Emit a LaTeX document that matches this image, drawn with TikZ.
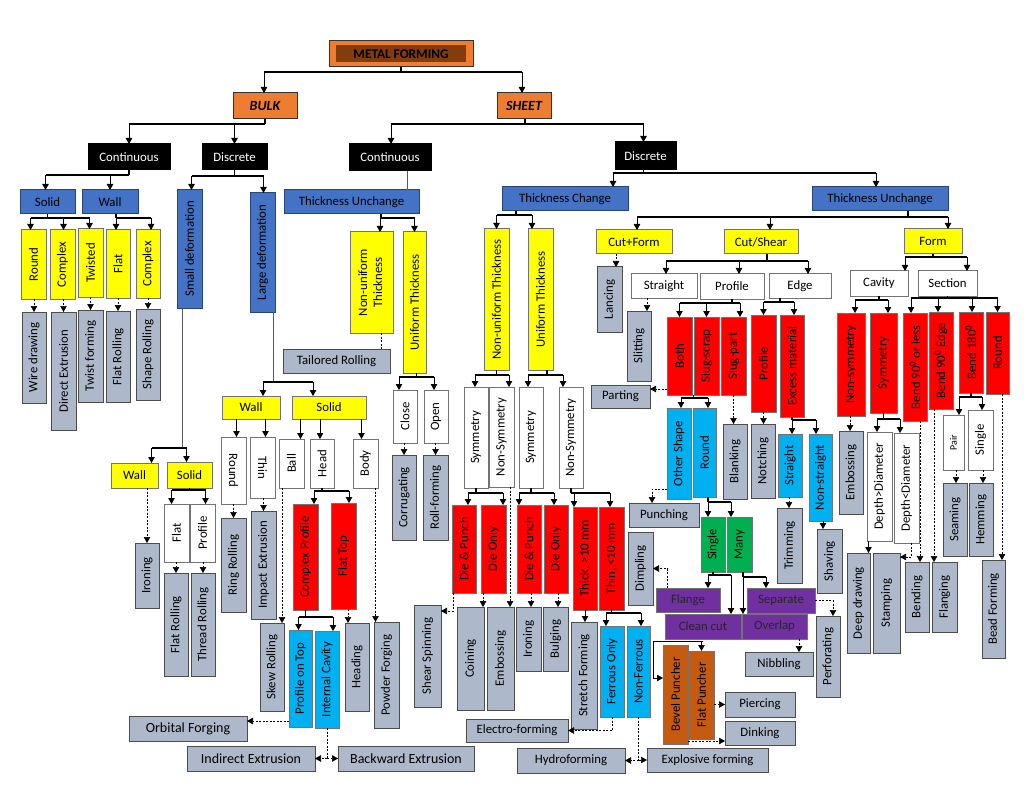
\documentclass[tikz,border=0pt]{standalone}
\usepackage{fontspec}
\setmainfont{Carlito}
\usepackage{graphicx}
\usetikzlibrary{arrows.meta}
\definecolor{corg}{HTML}{ED7D31}
\definecolor{cbrn}{HTML}{843C0C}
\definecolor{cblu}{HTML}{4472C4}
\definecolor{cgry}{HTML}{ADB9CA}
\definecolor{ccya}{HTML}{00B0F0}
\definecolor{cgrn}{HTML}{00B050}
\definecolor{cpur}{HTML}{7030A0}
\definecolor{cpun}{HTML}{C55A11}
\definecolor{cred}{HTML}{FF0000}
\definecolor{cyel}{HTML}{FFFF00}
\tikzset{
 box/.style={draw=black!70, line width=1pt, inner sep=0pt, outer sep=0pt, align=center, font=\fontsize{12.8}{15}\selectfont, text=black},
 sOrg/.style={fill=corg, draw=black!80},
 sBlk/.style={fill=black, draw=black, text=white},
 sBlu/.style={fill=cblu, draw=cblu!60!black},
 sYel/.style={fill=cyel, draw=black!55},
 sGry/.style={fill=cgry, draw=black!70},
 sWht/.style={fill=white, draw=black!55},
 sRed/.style={fill=cred, draw=black!55},
 sCya/.style={fill=ccya, draw=black!55},
 sGrn/.style={fill=cgrn, draw=black!55},
 sPur/.style={fill=cpur, draw=black!55, text=black!85},
 sPun/.style={fill=cpun, draw=black!55},
 bar/.style={line width=1.6pt, black},
 thinstem/.style={line width=0.7pt, black!65},
 arr/.style={line width=0.8pt, black, -{Triangle[length=6pt,width=6.5pt]}},
 darr/.style={line width=0.6pt, black, dash pattern=on 2pt off 1.5pt, -{Triangle[length=6pt,width=6.5pt]}},
 dln/.style={line width=0.6pt, black, dash pattern=on 2pt off 1.5pt},
 big/.style={font=\fontsize{14}{16}\selectfont}
}
\newcommand\Bx[7]{\node[box,#6,minimum width={(#4-#2)*1pt},minimum height={(#5-#3)*1pt}] (#1) at ({(#2+#4)/2},{(#3+#5)/2}) {#7};}
\newcommand\Vbx[7]{\Bx{#1}{#2}{#3}{#4}{#5}{#6}{\rotatebox{90}{#7}}}
\newcommand\Fork[5][bar]{%
  \coordinate (fkex) at ([xshift=#3pt]#2.south);
  \coordinate (fkbus) at (0,#4);
  \draw[#1] (fkex) -- (fkex |- fkbus);
  \foreach \fkc/\fkd in {#5}{%
    \coordinate (fkcx) at ([xshift=\fkd pt]\fkc.north);
    \draw[bar] (fkex |- fkbus) -- (fkcx |- fkbus);
    \draw[arr] (fkcx |- fkbus) -- (fkcx);
  }}
\newcommand\Drop[4]{\coordinate (dpx) at ([xshift=#3pt]#2.north); \draw[#4] (dpx |- #1.south) -- (dpx);}
\newcommand\DropP[4]{\coordinate (dpx) at ([xshift=#3pt]#1.south); \draw[#4] (dpx) -- (dpx |- #2.north);}
\begin{document}
\begin{tikzpicture}[x=1pt,y=-1pt]
\fill[white] (0,0) rectangle (1024,791);
\useasboundingbox (0,0) rectangle (1024,791);
% ---------- top ----------
\Bx{mf}{329}{41}{473}{67}{sOrg}{}
\node[box, fill=cbrn, draw=none, minimum width=130pt, minimum height=17pt, font=\fontsize{13.3}{15}\selectfont\bfseries] (mft) at (mf.center) {METAL FORMING};
\Bx{bulk}{233}{93}{297}{119}{sOrg,font=\fontsize{14}{16}\selectfont\bfseries\itshape}{BULK}
\Bx{sheet}{497}{93}{551}{119}{sOrg,font=\fontsize{14}{16}\selectfont\bfseries\itshape}{SHEET}
\Fork{mf}{0}{72}{bulk/-1,sheet/-2}
\Bx{bc}{88}{144}{170}{170}{sBlk}{Continuous}
\Bx{bd}{202}{144}{267}{170}{sBlk}{Discrete}
\Bx{sc}{349}{144}{431}{171}{sBlk}{Continuous}
\Bx{sd}{615}{142}{676}{170}{sBlk}{Discrete}
\Fork{bulk}{0}{124}{bc/0,bd/0}
\Fork{sheet}{1}{124}{sc/1,sd/-2}
% ---------- bulk continuous ----------
\Bx{solid1}{20}{190}{75}{214}{sBlu}{Solid}
\Bx{wall1}{82}{190}{138}{214}{sBlu}{Wall}
\Fork{bc}{0}{175}{solid1/-2,wall1/0}
\Vbx{round1}{21}{230}{46}{299}{sYel}{Round}
\Vbx{cplx1}{50}{230}{75}{299}{sYel}{Complex}
\Vbx{twist}{78}{229}{103}{297}{sYel}{Twisted}
\Vbx{flat1}{106}{230}{130}{298}{sYel}{Flat}
\Vbx{cplx2}{136}{230}{160}{298}{sYel}{Complex}
\Fork{solid1}{0}{218}{round1/-3,cplx1/1,twist/-1}
\Fork{wall1}{6}{218}{flat1/-2,cplx2/3}
\Vbx{wire}{22}{312}{46}{403}{sGry}{Wire drawing}
\Vbx{dext}{51}{312}{76}{430}{sGry}{Direct Extrusion}
\Vbx{twf}{78}{310}{103}{402}{sGry}{Twist forming}
\Vbx{flr1}{106}{311}{130}{402}{sGry}{Flat Rolling}
\Vbx{shr}{136}{309}{160}{400}{sGry}{Shape Rolling}
\Drop{round1}{wire}{0}{darr}
\Drop{cplx1}{dext}{0}{darr}
\Drop{twist}{twf}{0}{darr}
\Drop{flat1}{flr1}{0}{darr}
\Drop{cplx2}{shr}{0}{darr}
% ---------- bulk discrete ----------
\Vbx{small}{177}{190}{202}{308}{sBlu}{Small deformation}
\Vbx{large}{250}{193}{275}{312}{sBlu}{Large deformation}
\Fork{bd}{0}{176}{small/2,large/1}
\Bx{wall2}{111}{463}{158}{488}{sYel}{Wall}
\Bx{solid2}{167}{462}{212}{488}{sYel}{Solid}
\Fork[thinstem]{small}{-7}{448}{wall2/17,solid2/-3}
\Vbx{iron1}{135}{543}{159}{608}{sGry}{Ironing}
\Drop{wall2}{iron1}{0}{darr}
\Vbx{flat2}{164}{504}{189}{562}{sWht}{Flat}
\Vbx{prof2}{190}{504}{215}{562}{sWht}{Profile}
\Fork{solid2}{0}{490}{flat2/-5,prof2/3}
\Vbx{flr2}{164}{573}{188}{676}{sGry}{Flat Rolling}
\Vbx{thr}{191}{573}{215}{676}{sGry}{Thread Rolling}
\Drop{flat2}{flr2}{0}{darr}
\Drop{prof2}{thr}{0}{darr}
\Bx{wall3}{222}{396}{280}{419}{sYel}{Wall}
\Bx{solid3}{292}{396}{366}{419}{sYel}{Solid}
\Fork[thinstem]{large}{10.5}{382}{wall3/12,solid3/-16}
\Bx{round3}{221}{437}{246}{504}{sWht}{\rotatebox{-90}{Round}}
\Bx{thin3}{250}{437}{275}{498}{sWht}{\rotatebox{-90}{Thin}}
\Drop{wall3}{round3}{3}{arr}
\Drop{wall3}{thin3}{3}{arr}
\Vbx{ring}{221}{518}{246}{612}{sGry}{Ring Rolling}
\Vbx{impx}{251}{511}{276}{619}{sGry}{Impact Extrusion}
\Drop{round3}{ring}{0}{darr}
\Drop{thin3}{impx}{0}{darr}
\Vbx{ball}{279}{439}{304}{488}{sWht}{Ball}
\Vbx{head}{310}{439}{334}{488}{sWht}{Head}
\Vbx{body}{353}{439}{378}{488}{sWht}{Body}
\Drop{solid3}{ball}{9}{arr}
\Drop{solid3}{head}{-2}{arr}
\Drop{solid3}{body}{-4}{arr}
\Vbx{cprof}{293}{504}{318}{610}{sRed}{Complex Profile}
\Vbx{ftop}{331}{503}{356}{609}{sRed}{Flat Top}
\Fork{head}{0}{491}{cprof/8.5,ftop/5.5}
\Vbx{skew}{260}{623}{284}{711}{sGry}{Skew Rolling}
\DropP{ball}{skew}{-9.5}{darr}
\Vbx{ptop}{289}{630}{312}{727}{sCya}{Profile on Top}
\Vbx{icav}{315}{631}{339}{728}{sCya}{Internal Cavity}
\Fork{cprof}{0}{617}{ptop/-2,icav/6}
\Bx{orbital}{129}{716}{247}{741}{sGry,big}{Orbital Forging}
\coordinate (o1) at ([yshift=-42.5pt]ptop.west);
\draw[darr] (o1) -- (o1 -| orbital.east);
\Bx{indx}{187}{746}{315}{771}{sGry,big}{Indirect Extrusion}
\Bx{bwx}{338}{746}{474}{771}{sGry,big}{Backward Extrusion}
\draw[dln] (icav.south) -- (icav.south |- indx.east);
\draw[darr] (icav.south |- indx.east) -- (indx.east);
\draw[darr] (icav.south |- bwx.west) -- (bwx.west);
\Vbx{heading}{345}{623}{369}{711}{sGry}{Heading}
\Drop{ftop}{heading}{-9}{darr}
\Vbx{powder}{374}{622}{399}{728}{sGry}{Powder Forging}
\Drop{body}{powder}{-11}{darr}
% ---------- sheet continuous ----------
\Bx{tu1}{284}{190}{419}{214}{sBlu}{Thickness Unchange}
\DropP{sc}{tu1}{17}{thinstem}
\Vbx{nu1}{350}{232}{393}{333}{sYel}{\begin{tabular}{@{}c@{}}Non-uniform\\Thickness\end{tabular}}
\Vbx{ut1}{403}{232}{426}{373}{sYel}{Uniform Thickness}
\Fork{tu1}{29.5}{218}{nu1/8.5,ut1/0}
\Bx{tailored}{283}{349}{390}{373}{sGry}{Tailored Rolling}
\DropP{nu1}{tailored}{9.5}{dln}
\Vbx{close}{393}{390}{417}{443}{sWht}{Close}
\Vbx{open}{424}{390}{448}{443}{sWht}{Open}
\Fork{ut1}{2}{377}{close/-6,open/-2}
\Vbx{corr}{392}{455}{416}{540}{sGry}{Corrugating}
\Vbx{rollf}{423}{455}{448}{540}{sGry}{Roll-forming}
\Drop{close}{corr}{0}{darr}
\Drop{open}{rollf}{0}{darr}
% ---------- sheet discrete: thickness change ----------
\Bx{tc}{502}{187}{628}{211}{sBlu}{Thickness Change}
\Bx{tu2}{812}{187}{948}{211}{sBlu}{Thickness Unchange}
\Fork{sd}{-2}{173}{tc/48,tu2/-4}
\Vbx{nu2}{484}{229}{509}{370}{sYel}{Non-uniform Thickness}
\Vbx{ut2}{528}{229}{553}{370}{sYel}{Uniform Thickness}
\Fork{tc}{-49}{215}{nu2/0,ut2/-8.5}
\Vbx{sym1}{464}{387}{488}{488}{sWht}{Symmetry}
\Vbx{nsym1}{489}{387}{514}{487}{sWht}{Non-Symmetry}
\Vbx{sym2}{519}{387}{543}{488}{sWht}{Symmetry}
\Vbx{nsym2}{559}{387}{583}{488}{sWht}{Non-Symmetry}
\Fork{nu2}{0}{375}{sym1/-1,nsym1/7.5}
\Fork{ut2}{6.5}{375}{sym2/-3,nsym2/-8}
\Vbx{dp1}{452}{505}{476}{593}{sRed}{Die \& Punch}
\Vbx{do1}{481}{505}{506}{593}{sRed}{Die Only}
\Vbx{dp2}{517}{505}{541}{593}{sRed}{Die \& Punch}
\Vbx{do2}{544}{505}{568}{593}{sRed}{Die Only}
\Vbx{thick}{573}{507}{597}{610}{sRed}{Thick, >10 mm}
\Vbx{thinr}{599}{507}{624}{610}{sRed}{Thin, <10 mm}
\Fork{sym1}{0}{493}{dp1/4,do1/9.5}
\Fork{sym2}{0}{493}{dp2/-10,do2/-2}
\Fork{nsym2}{0}{493}{thick/-11,thinr/-1.5}
\Vbx{shear}{414}{605}{441}{707}{sGry}{Shear Spinning}
\draw[darr] ([xshift=1pt]dp1.south west) |- ([yshift=-6pt]shear.north east);
\Vbx{coin}{457}{607}{484}{710}{sGry}{Coining}
\Vbx{embs1}{487}{607}{514}{710}{sGry}{Embossing}
\Vbx{iron2}{516}{607}{541}{671}{sGry}{Ironing}
\Vbx{bulg}{543}{607}{568}{671}{sGry}{Bulging}
\DropP{do1}{coin}{-10.5}{darr}
\DropP{nsym1}{embs1}{8.5}{darr}
\Drop{dp2}{iron2}{2.5}{darr}
\Drop{do2}{bulg}{2.5}{darr}
\Vbx{stretch}{571}{622}{597}{729}{sGry}{Stretch Forming}
\Drop{thick}{stretch}{1}{arr}
\Vbx{ferr}{600}{626}{624}{717}{sCya}{Ferrous Only}
\Vbx{nferr}{627}{626}{650}{717}{sCya}{Non-Ferrous}
\Fork{thinr}{0}{613}{ferr/-6,nferr/2.5}
\Bx{electro}{466}{719}{568}{742}{sGry}{Electro-forming}
\draw[darr] (ferr.south) |- (electro.east);
\Bx{hydro}{517}{748}{625}{773}{sGry}{Hydroforming}
\Bx{explo}{647}{748}{768}{772}{sGry}{Explosive forming}
\draw[dln] (nferr.south) -- (nferr.south |- hydro.east);
\draw[darr] (nferr.south |- hydro.east) -- (hydro.east);
\draw[darr] (nferr.south |- explo.west) -- (explo.west);
% ---------- sheet discrete: thickness unchange ----------
\Bx{cutform}{596}{230}{672}{254}{sYel}{Cut+Form}
\Bx{cutshear}{724}{230}{798}{254}{sYel}{Cut/Shear}
\Bx{form}{904}{229}{962}{254}{sYel}{Form}
\Fork{tu2}{28}{217}{cutform/3,cutshear/9,form/15}
\Vbx{lancing}{597}{267}{622}{332}{sGry}{Lancing}
\DropP{cutform}{lancing}{-18}{darr}
\Bx{straight}{631}{274}{697}{298}{sWht}{Straight}
\Bx{profw}{700}{274}{764}{299}{sWht}{Profile}
\Bx{edge}{769}{274}{831}{298}{sWht}{Edge}
\Fork{cutshear}{6}{261}{straight/2,profw/7,edge/8}
\Vbx{slitting}{627}{311}{651}{381}{sGry}{Slitting}
\DropP{straight}{slitting}{-17}{darr}
\Vbx{both}{667}{317}{692}{395}{sRed}{Both}
\Vbx{slugs}{694}{317}{719}{395}{sRed}{Slug-scrap}
\Vbx{slugp}{721}{317}{746}{395}{sRed}{Slug-part}
\Fork{profw}{0}{303}{both/0,slugs/0,slugp/6.5}
\Vbx{profr}{751}{315}{776}{412}{sRed}{Profile}
\Vbx{excess}{780}{315}{804}{417}{sRed}{Excess material}
\Fork{edge}{-20}{302}{profr/0,excess/2}
\Bx{parting}{591}{385}{650}{408}{sGry}{Parting}
\coordinate (pt1) at ([yshift=-33pt]both.west);
\draw[darr] (pt1) -- (pt1 -| parting.east);
\Vbx{oshape}{667}{408}{691}{499}{sCya}{Other Shape}
\Vbx{roundc}{693}{408}{716}{497}{sCya}{Round}
\Fork{slugs}{-13}{398}{oshape/2,roundc/3.5}
\Vbx{blanking}{723}{424}{747}{499}{sGry}{Blanking}
\DropP{slugp}{blanking}{0}{darr}
\Vbx{notching}{751}{424}{775}{498}{sGry}{Notching}
\DropP{profr}{notching}{0}{darr}
\Vbx{str2}{778}{434}{802}{497}{sCya}{Straight}
\Vbx{nstr}{809}{434}{832}{521}{sCya}{Non-straight}
\Fork{excess}{0}{420}{str2/2,nstr/-4.5}
\Vbx{trimming}{777}{508}{802}{583}{sGry}{Trimming}
\DropP{str2}{trimming}{-1}{darr}
\Vbx{shaving}{817}{529}{842}{593}{sGry}{Shaving}
\DropP{nstr}{shaving}{2.5}{arr}
\Bx{punching}{629}{503}{699}{527}{sGry}{Punching}
\draw[darr] ([yshift=-35.5pt]oshape.west) -| ([xshift=-12pt]punching.north);
\Vbx{single}{701}{517}{725}{572}{sGrn}{Single}
\Vbx{many}{727}{517}{752}{572}{sGrn}{Many}
\Fork{roundc}{3.5}{502}{single/-5,many/-8.5}
\Bx{flange}{656}{588}{720}{612}{sPur}{Flange}
\Bx{cleancut}{665}{614}{741}{639}{sPur}{Clean cut}
\Bx{separate}{747}{588}{815}{613}{sPur}{Separate}
\Bx{overlap}{742}{614}{807}{639}{sPur}{Overlap}
\Fork{single}{0}{575}{flange/20,cleancut/28}
\Fork{many}{3.5}{577}{separate/-15,overlap/-31.5}
\Vbx{dimpling}{628}{532}{653}{605}{sGry}{Dimpling}
\draw[darr] ([xshift=11pt]flange.north west) |- (dimpling.east);
\Vbx{perf}{816}{616}{840}{697}{sGry}{Perforating}
\draw[darr] (separate.east) -| ([xshift=5pt]perf.north);
\Bx{nibbling}{745}{652}{813}{676}{sGry}{Nibbling}
\Drop{overlap}{nibbling}{20}{darr}
\Vbx{bevelp}{663}{645}{688}{744}{sPun}{Bevel Puncher}
\Vbx{flatp}{689}{651}{714}{739}{sPun}{Flat Puncher}
\coordinate (kk) at ([yshift=-2.5pt]cleancut.south);
\coordinate (bp) at ([yshift=16.5pt]bevelp.west);
\coordinate (bq) at ([xshift=-10pt]bp);
\draw[bar] (bq |- kk) -- (kk) -- (kk -| flatp.north);
\draw[arr] (kk -| flatp.north) -- (flatp.north);
\draw[arr] (bq |- kk) -- (bq) -- (bp);
\Bx{piercing}{725}{692}{795}{717}{sGry}{Piercing}
\draw[darr] (flatp.east |- piercing.west) -- (piercing.west);
\Bx{dinking}{725}{721}{795}{745}{sGry}{Dinking}
\coordinate (dk) at ([yshift=3pt]bevelp.south east);
\draw[darr] (dk) -- (dk -| dinking.west);
% ---------- form ----------
\Bx{cavity}{850}{271}{908}{296}{sWht}{Cavity}
\Bx{section}{918}{271}{977}{296}{sWht}{Section}
\Fork{form}{0}{257}{cavity/26,section/19.5}
\Vbx{nonsym}{837}{313}{865}{416}{sRed}{Non-symmetry}
\Vbx{sym3}{870}{313}{897}{413}{sRed}{Symmetry}
\Fork{cavity}{0}{300}{nonsym/4,sym3/4.5}
\Vbx{b90}{903}{313}{927}{421}{sRed}{Bend 90\textsuperscript{0} or less}
\Vbx{b90e}{929}{312}{953}{409}{sRed}{Bend 90\textsuperscript{0} Edge}
\Vbx{b180}{959}{312}{983}{393}{sRed}{Bend 180\textsuperscript{0}}
\Vbx{roundr}{986}{312}{1009}{394}{sRed}{Round}
\Fork{section}{0}{298}{b90/-4,b90e/-3,b180/1,roundr/0}
\Vbx{embs2}{839}{431}{863}{514}{sGry}{Embossing}
\Drop{nonsym}{embs2}{-1}{darr}
\Vbx{dgt}{867}{432}{892}{541}{sWht}{Depth>Diameter}
\Vbx{dlt}{894}{433}{919}{543}{sWht}{Depth<Diameter}
\Fork{sym3}{0}{419}{dgt/-2.5,dlt/-6.5}
\Vbx{pair}{943}{415}{964}{470}{sWht,font=\fontsize{10}{12}\selectfont}{Pair}
\Vbx{single2}{968}{410}{993}{470}{sWht}{Single}
\Fork{b180}{0}{397}{pair/5.5,single2/1.5}
\Vbx{seaming}{943}{483}{967}{556}{sGry}{Seaming}
\Vbx{hemming}{969}{483}{993}{556}{sGry}{Hemming}
\Drop{pair}{seaming}{1}{darr}
\Drop{single2}{hemming}{2}{darr}
\Vbx{bead}{982}{560}{1005}{658}{sGry}{Bead Forming}
\DropP{roundr}{bead}{4.5}{darr}
\Vbx{flanging}{932}{562}{957}{632}{sGry}{Flanging}
\DropP{b90e}{flanging}{-7}{darr}
\Vbx{bending}{905}{562}{929}{632}{sGry}{Bending}
\DropP{b90}{bending}{5}{darr}
\Vbx{stamping}{873}{553}{900}{653}{sGry}{Stamping}
\draw[darr] ([xshift=4.5pt]dlt.south) |- ([yshift=-4pt]stamping.north east);
\Vbx{deepdr}{847}{553}{870}{653}{sGry}{Deep drawing}
\Drop{dgt}{deepdr}{10}{arr}
\end{tikzpicture}
\end{document}
